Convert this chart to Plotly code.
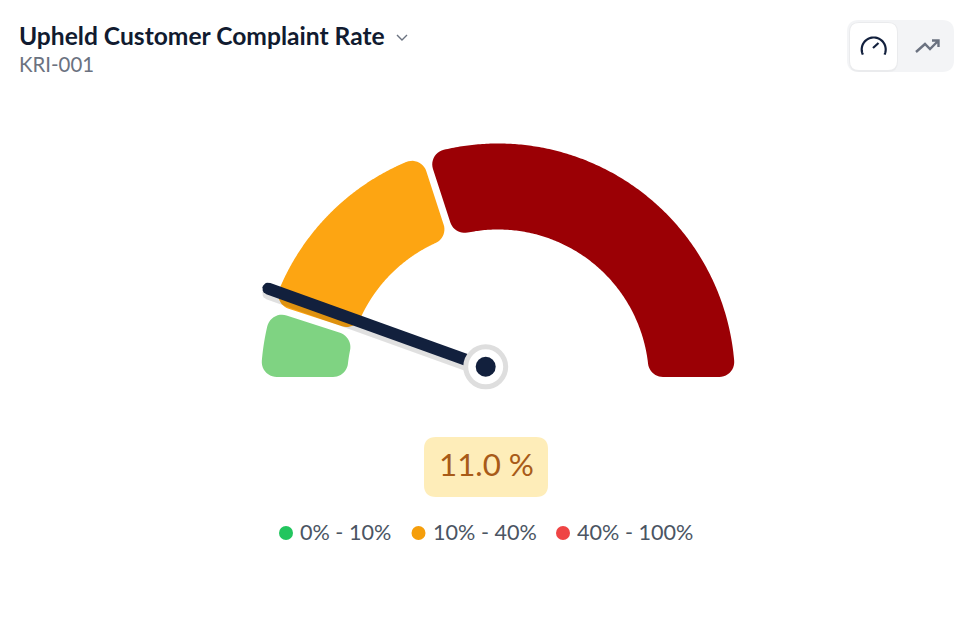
import numpy as np
import plotly.graph_objects as go

# Gauge bands and reading, in percent
band_edges = [0, 10, 40, 100]
band_colors = ["#7FD382", "#FDA512", "#9B0005"]
legend_colors = ["#22C55E", "#F59E0B", "#EF4444"]
reading = 11.0
title_text = "Upheld Customer Complaint Rate"
subtitle_text = "KRI-001"

FONT = "Lato"
NAVY = "#12203D"

# Gauge geometry on the pixel-scaled axes
CX, CY = 498.0, 380.5
R_OUT, R_IN = 237.0, 151.0
GAP = 7.0
CORNER = 15.0
PIVOT = (485.7, 366.8)
NEEDLE_LEN = 231.0
NEEDLE_W = 12.0


def pct_to_angle(p):
    """Percent on the gauge to radians, 0% on the left, 100% on the right."""
    return np.pi * (1 - p / 100)


def polar(r, a):
    return (CX + r * np.cos(a), CY - r * np.sin(a))


def arc_points(cx, cy, r, a0, a1, n=24):
    t = np.linspace(a0, a1, n)
    return list(cx + r * np.cos(t)), list(cy - r * np.sin(t))


def band_outline(p0, p1):
    """Annular sector with rounded corners, from p0 to p1 percent."""
    a_hi, a_lo = pct_to_angle(p0), pct_to_angle(p1)
    g = GAP / 2
    c = CORNER
    xs, ys = [], []

    def extend(pts):
        xs.extend(pts[0])
        ys.extend(pts[1])

    d_out = np.arcsin((g + c) / (R_OUT - c))
    d_in = np.arcsin((g + c) / (R_IN + c))

    # outer edge, high angle to low angle, with a corner at each end
    ctr = polar(R_OUT - c, a_hi - d_out)
    extend(arc_points(ctr[0], ctr[1], c, a_hi + np.pi / 2, a_hi - d_out, 12))
    extend(arc_points(CX, CY, R_OUT, a_hi - d_out, a_lo + d_out, 200))
    ctr = polar(R_OUT - c, a_lo + d_out)
    extend(arc_points(ctr[0], ctr[1], c, a_lo + d_out, a_lo - np.pi / 2, 12))

    # inner edge, back from low angle to high angle
    ctr = polar(R_IN + c, a_lo + d_in)
    extend(arc_points(ctr[0], ctr[1], c, a_lo - np.pi / 2, a_lo + d_in - np.pi, 12))
    extend(arc_points(CX, CY, R_IN, a_lo + d_in, a_hi - d_in, 150))
    ctr = polar(R_IN + c, a_hi - d_in)
    extend(arc_points(ctr[0], ctr[1], c, a_hi - d_in + np.pi, a_hi + np.pi / 2, 12))
    xs.append(xs[0])
    ys.append(ys[0])
    return xs, ys


def needle_outline(dy=0.0):
    a = pct_to_angle(reading)
    ux, uy = np.cos(a), -np.sin(a)
    tx, ty = PIVOT[0] + NEEDLE_LEN * ux, PIVOT[1] + NEEDLE_LEN * uy + dy
    hw = NEEDLE_W / 2
    xs, ys = arc_points(tx, ty, hw, a - np.pi / 2, a + np.pi / 2, 12)
    xs += [PIVOT[0] - hw * np.sin(a), PIVOT[0] + hw * np.sin(a), xs[0]]
    ys += [PIVOT[1] - hw * np.cos(a) + dy, PIVOT[1] + hw * np.cos(a) + dy, ys[0]]
    return xs, ys


def rounded_rect(x0, y0, x1, y1, r):
    return (
        f"M{x0+r},{y0} L{x1-r},{y0} Q{x1},{y0} {x1},{y0+r} L{x1},{y1-r} Q{x1},{y1} {x1-r},{y1} "
        f"L{x0+r},{y1} Q{x0},{y1} {x0},{y1-r} L{x0},{y0+r} Q{x0},{y0} {x0+r},{y0} Z"
    )


fig = go.Figure()

# Gauge bands
for lo, hi, col in zip(band_edges[:-1], band_edges[1:], band_colors):
    bx, by = band_outline(lo, hi)
    fig.add_trace(go.Scatter(x=bx, y=by, mode="lines", fill="toself", fillcolor=col,
                             line=dict(width=0, simplify=False), hoverinfo="skip"))

# Needle with its soft shadow, then the pivot
sx, sy = needle_outline(dy=5)
fig.add_trace(go.Scatter(x=sx, y=sy, mode="lines", fill="toself", fillcolor="rgba(0,0,0,0.12)",
                         line=dict(width=0), hoverinfo="skip"))
nx, ny = needle_outline()
fig.add_trace(go.Scatter(x=nx, y=ny, mode="lines", fill="toself", fillcolor=NAVY,
                         line=dict(width=0), hoverinfo="skip"))
fig.add_trace(go.Scatter(x=[PIVOT[0]], y=[PIVOT[1]], mode="markers", hoverinfo="skip",
                         marker=dict(size=40, color="white", line=dict(color="#DEDEDE", width=5))))
fig.add_trace(go.Scatter(x=[PIVOT[0]], y=[PIVOT[1]], mode="markers", hoverinfo="skip",
                         marker=dict(size=20, color=NAVY)))

# Legend row
legend_labels = [f"{a}% - {b}%" for a, b in zip(band_edges[:-1], band_edges[1:])]
legend_dot_x = [286, 418.5, 563]
legend_text_x = [299, 431.5, 576]
fig.add_trace(go.Scatter(x=legend_dot_x, y=[533] * 3, mode="markers", hoverinfo="skip",
                         marker=dict(size=14, color=legend_colors)))

# Gauge glyph in the toggle
gx, gy = arc_points(873.7, 49.5, 12, np.radians(-25), np.radians(205), 40)
fig.add_trace(go.Scatter(x=gx, y=gy, mode="lines", hoverinfo="skip",
                         line=dict(color=NAVY, width=2.2, simplify=False)))
fig.add_trace(go.Scatter(x=[873, 878.5], y=[48, 43], mode="lines", hoverinfo="skip",
                         line=dict(color=NAVY, width=2.2)))

shapes = [
    dict(type="path", path=rounded_rect(424, 437, 548, 497, 12), fillcolor="#FEEDB9", line_width=0, layer="below"),
    dict(type="path", path=rounded_rect(847, 20, 954, 72, 12), fillcolor="#F3F4F6", line_width=0, layer="below"),
    dict(type="path", path=rounded_rect(849, 22, 898, 72, 10), fillcolor="rgba(0,0,0,0.035)", line_width=0, layer="below"),
    dict(type="path", path=rounded_rect(850, 23, 897, 70, 9), fillcolor="white", line_width=0, layer="below"),
    # trend arrow
    dict(type="path", path="M916,52 L925,44 L930,49 L938,41 M932,40.5 L938.5,40.5 L938.5,47",
         line=dict(color="#6B7280", width=2.4), fillcolor="rgba(0,0,0,0)"),
    # dropdown chevron
    dict(type="path", path="M397,35 L402,40 L407,35", line=dict(color="#6B7280", width=1.4),
         fillcolor="rgba(0,0,0,0)"),
]

annotations = [
    dict(x=18, y=35, text=f"<b>{title_text}</b>", font=dict(family=FONT, size=24.6, color="#111B30"),
         xanchor="left", yanchor="middle"),
    dict(x=18, y=64, text=subtitle_text, font=dict(family=FONT, size=20.4, color="#6B7280"),
         xanchor="left", yanchor="middle"),
    dict(x=486, y=464, text=f"{reading:.1f} %", font=dict(family=FONT, size=31.3, color="#A85B18"),
         xanchor="center", yanchor="middle"),
]
for tx, lab in zip(legend_text_x, legend_labels):
    annotations.append(dict(x=tx, y=531.5, text=lab, font=dict(family=FONT, size=21.6, color="#4B5563"),
                            xanchor="left", yanchor="middle"))
for a in annotations:
    a.update(xref="x", yref="y", showarrow=False, borderpad=0, align="left")

fig.update_layout(
    width=974, height=624, margin=dict(l=0, r=0, t=0, b=0),
    paper_bgcolor="white", plot_bgcolor="white", showlegend=False,
    xaxis=dict(range=[0, 974], visible=False, fixedrange=True),
    yaxis=dict(range=[624, 0], visible=False, fixedrange=True),
    shapes=shapes, annotations=annotations,
)
fig.write_html("out.html", config=dict(displayModeBar=False))
